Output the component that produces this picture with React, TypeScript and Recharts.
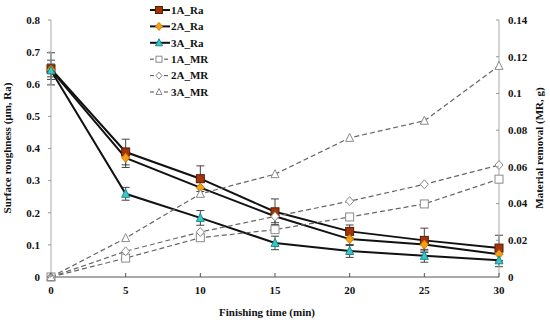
import React from 'react';
import { LineChart, Line, XAxis, YAxis, ErrorBar, Legend } from 'recharts';

const times = [0, 5, 10, 15, 20, 25, 30];

const ra1A = [0.648, 0.389, 0.306, 0.203, 0.142, 0.114, 0.09];
const ra2A = [0.645, 0.371, 0.278, 0.189, 0.118, 0.101, 0.071];
const ra3A = [0.643, 0.259, 0.184, 0.106, 0.081, 0.066, 0.052];

const err1A = [0.05, 0.04, 0.04, 0.04, 0.02, 0.038, 0.04];
const err2A = [0.03, 0.03, 0.027, 0.02, 0.02, 0.02, 0.02];
const err3A = [0.02, 0.02, 0.023, 0.021, 0.02, 0.02, 0.02];

const mr1A = [0, 0.0103, 0.0214, 0.0258, 0.0327, 0.0398, 0.0533];
const mr2A = [0, 0.014, 0.0245, 0.033, 0.0413, 0.0505, 0.061];
const mr3A = [0, 0.0212, 0.0453, 0.056, 0.0758, 0.0851, 0.115];

const xTicks = [0, 5, 10, 15, 20, 25, 30];
const raTicks = [0, 0.1, 0.2, 0.3, 0.4, 0.5, 0.6, 0.7, 0.8];
const mrTicks = [0, 0.02, 0.04, 0.06, 0.08, 0.1, 0.12, 0.14];

const data = times.map((t, i) => ({
  t,
  ra1A: ra1A[i],
  ra2A: ra2A[i],
  ra3A: ra3A[i],
  e1A: err1A[i],
  e2A: err2A[i],
  e3A: err3A[i],
  mr1A: mr1A[i],
  mr2A: mr2A[i],
  mr3A: mr3A[i],
}));

const FONT = "'Liberation Serif', 'Times New Roman', serif";

// marker shapes
function Marker({ shape, cx, cy, fill, stroke, size }: any) {
  const h = size / 2;
  if (shape === 'square') {
    return <rect x={cx - h} y={cy - h} width={size} height={size} fill={fill} stroke={stroke} strokeWidth={1} />;
  }
  if (shape === 'diamond') {
    return (
      <polygon
        points={`${cx},${cy - h - 0.5} ${cx + h},${cy} ${cx},${cy + h + 0.5} ${cx - h},${cy}`}
        fill={fill}
        stroke={stroke}
        strokeWidth={1}
      />
    );
  }
  return (
    <polygon
      points={`${cx},${cy - h - 0.5} ${cx + h},${cy + h - 0.5} ${cx - h},${cy + h - 0.5}`}
      fill={fill}
      stroke={stroke}
      strokeWidth={1}
    />
  );
}

const series = [
  { key: 'ra1A', name: '1A_Ra', shape: 'square', fill: '#a0360e', stroke: '#5a1d05', size: 8, dashed: false },
  { key: 'ra2A', name: '2A_Ra', shape: 'diamond', fill: '#f5a013', stroke: '#d07a00', size: 8, dashed: false },
  { key: 'ra3A', name: '3A_Ra', shape: 'triangle', fill: '#3ec6c8', stroke: '#178c8e', size: 8, dashed: false },
  { key: 'mr1A', name: '1A_MR', shape: 'square', fill: '#ffffff', stroke: '#8a8a8a', size: 8, dashed: true },
  { key: 'mr2A', name: '2A_MR', shape: 'diamond', fill: '#ffffff', stroke: '#8a8a8a', size: 8, dashed: true },
  { key: 'mr3A', name: '3A_MR', shape: 'triangle', fill: '#ffffff', stroke: '#8a8a8a', size: 8, dashed: true },
];

const errKey: Record<string, string> = { ra1A: 'e1A', ra2A: 'e2A', ra3A: 'e3A' };

const textStyle = { fontFamily: FONT, fontWeight: 700, fontSize: 11, fill: '#111' };

function XTick({ x, y, payload }: any) {
  return (
    <g>
      <line x1={x} x2={x} y1={y} y2={y - 4} stroke="#555" />
      <text x={x} y={y + 17} textAnchor="middle" style={textStyle}>
        {payload.value}
      </text>
    </g>
  );
}

function LeftTick({ x, y, payload }: any) {
  return (
    <g>
      <line x1={x} x2={x - 3} y1={y} y2={y} stroke="#999" />
      <text x={x - 11} y={y} dy="0.35em" textAnchor="end" style={textStyle}>
        {payload.value}
      </text>
    </g>
  );
}

function RightTick({ x, y, payload }: any) {
  return (
    <g>
      <line x1={x} x2={x - 3} y1={y} y2={y} stroke="#999" />
      <text x={x + 9} y={y} dy="0.35em" textAnchor="start" style={textStyle}>
        {payload.value}
      </text>
    </g>
  );
}

function LegendBox() {
  return (
    <svg width={80} height={100}>
      {series.map((s, i) => {
        const y = 10 + i * 16.4;
        return (
          <g key={s.key}>
            {s.dashed ? (
              <>
                <line x1={2} x2={6} y1={y} y2={y} stroke="#666" strokeWidth={1.2} />
                <line x1={16} x2={20} y1={y} y2={y} stroke="#666" strokeWidth={1.2} />
              </>
            ) : (
              <line x1={2} x2={22} y1={y} y2={y} stroke="#111" strokeWidth={2} />
            )}
            <Marker shape={s.shape} cx={11} cy={y} fill={s.fill} stroke={s.stroke} size={s.dashed ? 6 : 7} />
            <text x={23} y={y} dy="0.35em" style={textStyle}>
              {s.name}
            </text>
          </g>
        );
      })}
    </svg>
  );
}

export default function App() {
  return (
    <div style={{ position: 'absolute', left: 0, top: 0, background: '#fff' }}>
      <LineChart
        width={550}
        height={323}
        data={data}
        margin={{ top: 20, right: 0, bottom: 0, left: 0 }}
        style={{ fontFamily: FONT }}
      >
        <XAxis
          dataKey="t"
          type="number"
          domain={[0, 30]}
          ticks={xTicks}
          height={46}
          tickSize={0}
          tickMargin={0}
          tickLine={false}
          tick={<XTick />}
          axisLine={{ stroke: '#555' }}
          label={{
            content: () => (
              <text x={267} y={316} textAnchor="middle" style={textStyle}>
                Finishing time (min)
              </text>
            ),
          }}
        />
        <YAxis
          yAxisId="ra"
          orientation="left"
          domain={[0, 0.8]}
          ticks={raTicks}
          width={51}
          tickSize={0}
          tickMargin={0}
          tickLine={false}
          tick={<LeftTick />}
          axisLine={{ stroke: '#aaa' }}
          label={{
            content: () => (
              <text transform="translate(11,148) rotate(-90)" textAnchor="middle" style={textStyle}>
                Surface roughness (µm, Ra)
              </text>
            ),
          }}
        />
        <YAxis
          yAxisId="mr"
          orientation="right"
          domain={[0, 0.14]}
          ticks={mrTicks}
          width={51}
          tickSize={0}
          tickMargin={0}
          tickLine={false}
          tick={<RightTick />}
          axisLine={{ stroke: '#aaa' }}
          label={{
            content: () => (
              <text transform="translate(543,148) rotate(-90)" textAnchor="middle" style={textStyle}>
                Material removal (MR, g)
              </text>
            ),
          }}
        />
        <Legend
          layout="vertical"
          align="center"
          verticalAlign="middle"
          wrapperStyle={{ left: 148, top: 0, width: 80, height: 100 }}
          content={() => <LegendBox />}
        />
        {series.map((s) => (
          <Line
            key={s.key}
            yAxisId={s.dashed ? 'mr' : 'ra'}
            dataKey={s.key}
            name={s.name}
            stroke={s.dashed ? '#666' : '#111'}
            strokeWidth={s.dashed ? 1.2 : 2}
            strokeDasharray={s.dashed ? '5 3' : undefined}
            isAnimationActive={false}
            dot={(p: any) => (
              <Marker key={`${s.key}-${p.index}`} shape={s.shape} cx={p.cx} cy={p.cy} fill={s.fill} stroke={s.stroke} size={s.size} />
            )}
            activeDot={false}
          >
            {!s.dashed && (
              <ErrorBar dataKey={errKey[s.key]} width={4} strokeWidth={1} stroke="#444" direction="y" />
            )}
          </Line>
        ))}
      </LineChart>
    </div>
  );
}
